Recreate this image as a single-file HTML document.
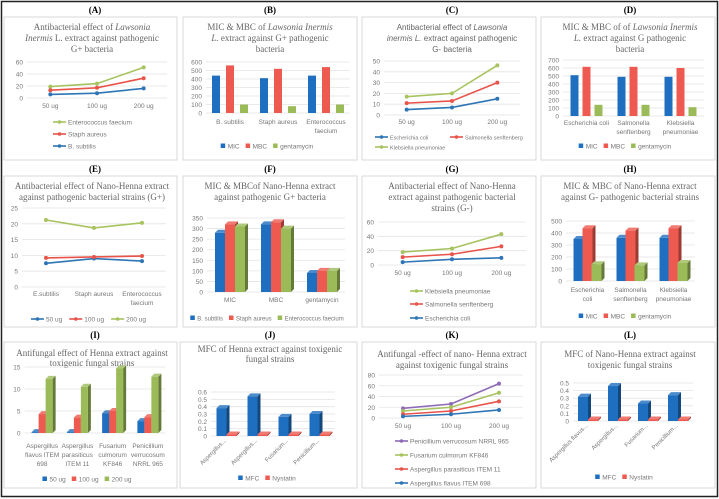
<!DOCTYPE html>
<html><head><meta charset="utf-8">
<style>
html,body{margin:0;padding:0;background:#fff;}
svg{display:block;}
.pl{font-family:"Liberation Serif",serif;font-weight:bold;font-size:9px;fill:#000;}
.tt{font-family:"Liberation Serif",serif;font-size:9px;fill:#666;}
.ts{font-family:"Liberation Sans",sans-serif;font-size:8px;fill:#666;}
</style></head>
<body>
<svg id="fig" width="719" height="499" viewBox="0 0 719 499" xmlns="http://www.w3.org/2000/svg">
<rect x="1.5" y="1.5" width="716" height="495" fill="#fff" stroke="#222" stroke-width="1.5"/>
<g fill="#fff" stroke="#d9d9d9" stroke-width="1">
<rect x="4" y="17" width="173" height="143"/>
<rect x="183" y="17" width="174" height="143"/>
<rect x="362" y="17" width="174" height="143"/>
<rect x="541" y="17" width="174" height="143"/>
<rect x="4" y="176" width="173" height="151"/>
<rect x="183" y="176" width="174" height="151"/>
<rect x="362" y="176" width="174" height="151"/>
<rect x="541" y="176" width="174" height="151"/>
<rect x="4" y="342" width="173" height="146"/>
<rect x="180" y="342" width="177" height="146"/>
<rect x="362" y="342" width="174" height="146"/>
<rect x="541" y="342" width="174" height="146"/>
</g>
<g text-anchor="middle">
<text class="pl" x="95" y="13">(A)</text>
<text class="pl" x="270" y="13">(B)</text>
<text class="pl" x="452" y="13">(C)</text>
<text class="pl" x="630" y="13">(D)</text>
<text class="pl" x="95" y="172">(E)</text>
<text class="pl" x="270" y="172">(F)</text>
<text class="pl" x="452" y="172">(G)</text>
<text class="pl" x="630" y="172">(H)</text>
<text class="pl" x="95" y="338">(I)</text>
<text class="pl" x="270" y="338">(J)</text>
<text class="pl" x="452" y="338">(K)</text>
<text class="pl" x="630" y="338">(L)</text>
</g>
<g text-anchor="middle">
<text class="tt" x="92" y="30">Antibacterial  effect of <tspan font-style="italic">Lawsonia</tspan></text>
<text class="tt" x="92" y="41"><tspan font-style="italic">Inermis</tspan> L. extract against  pathogenic</text>
<text class="tt" x="92" y="52">G+  bacteria</text>
<text class="tt" x="270" y="30">MIC &amp; MBC of <tspan font-style="italic">Lawsonia  Inermis</tspan></text>
<text class="tt" x="270" y="41"><tspan font-style="italic">L.</tspan> extract against  G+ pathogenic</text>
<text class="tt" x="270" y="52">bacteria</text>
<text class="ts" x="452" y="30">Antibacterial effect of <tspan font-style="italic">Lawsonia</tspan></text>
<text class="ts" x="452" y="41"><tspan font-style="italic">inermis L.</tspan> extract against pathogenic</text>
<text class="ts" x="452" y="52">G-  bacteria</text>
<text class="tt" x="630" y="30">MIC &amp; MBC of of <tspan font-style="italic">Lawsonia  Inermis</tspan></text>
<text class="tt" x="630" y="41"><tspan font-style="italic">L.</tspan> extract against  G   pathogenic</text>
<text class="tt" x="630" y="52">bacteria</text>
<text class="tt" x="92" y="189">Antibacterial effect of Nano-Henna extract</text>
<text class="tt" x="92" y="200">against pathogenic  bacterial strains (G+)</text>
<text class="tt" x="270" y="189">MIC &amp; MBCof Nano-Henna extract</text>
<text class="tt" x="270" y="200">against pathogenic G+ bacteria</text>
<text class="tt" x="452" y="189">Antibacterial  effect of Nano-Henna</text>
<text class="tt" x="452" y="200">extract against pathogenic bacterial</text>
<text class="tt" x="452" y="211">strains (G-)</text>
<text class="tt" x="630" y="189">MIC &amp; MBC of Nano-Henna extract</text>
<text class="tt" x="630" y="200">against G- pathogenic bacterial strains</text>
<text class="tt" x="92" y="356">Antifungal  effect of Henna extract against</text>
<text class="tt" x="92" y="366">toxigenic  fungal strains</text>
<text class="tt" x="270" y="352">MFC of Henna extract against toxigenic</text>
<text class="tt" x="270" y="362">fungal strains</text>
<text class="tt" x="452" y="357">Antifungal -effect of nano- Henna extract</text>
<text class="tt" x="452" y="368">against toxigenic  fungal  strains</text>
<text class="tt" x="630" y="357">MFC of Nano-Henna extract against</text>
<text class="tt" x="630" y="368">toxigenic  fungal strains</text>
</g>
</svg>
<script>
// ---- data ----
const doseCats = ['50 ug','100 ug','200 ug'];
const aEntero = [19, 24, 51];
const aStaph = [13, 17, 33];
const aBsub = [6, 8, 16];
const bCats = ['B. subtilis','Staph  aureus','Enterococcus|faecium'];
const bMIC = [440, 410, 440];
const bMBC = [560, 520, 540];
const bGent = [100, 80, 100];
const cEcoli = [5, 7, 15];
const cSalm = [11, 13, 30];
const cKleb = [17, 20, 46];
const dCats = ['Escherichia  coli','Salmonella|senftenberg','Klebsiella|pneumoniae'];
const dMIC = [510, 490, 490];
const dMBC = [615, 615, 600];
const dGent = [140, 140, 110];
const eCats = ['E.subtilis','Staph aureus','Enterococcus|faecium'];
const e50 = [7.5, 9, 8.2];
const e100 = [9.2, 9.5, 9.8];
const e200 = [21.2, 18.7, 20.3];
const fCats = ['MIC','MBC','gentamycin'];
const fBsub = [280, 320, 90];
const fStaph = [320, 330, 100];
const fEntero = [310, 300, 100];
const gKleb = [18, 23, 43];
const gSalm = [11, 15, 26];
const gEcoli = [4, 8, 10];
const hCats = ['Escherichia|coli','Salmonella|senftenberg','Klebsiella|pneumoniae'];
const hMIC = [350, 360, 360];
const hMBC = [440, 420, 440];
const hGent = [140, 130, 150];
const iCats = ['Aspergillus|flavus ITEM|698','Aspergillus|parasiticus|ITEM 11','Fusarium|culmorum|KF846','Penicillium|verrucosum|NRRL 965'];
const i50 = [0.2, 0.2, 4.5, 2.7];
const i100 = [4.3, 3.5, 5.0, 3.6];
const i200 = [12.3, 10.5, 14.7, 12.8];
const jCats = ['Aspergillus...','Aspergillus...','Fusarium...','Penicillium...'];
const jMFC = [0.38, 0.54, 0.26, 0.30];
const jNys = [0.02, 0.02, 0.02, 0.02];
const kPen = [18, 26, 64];
const kFus = [13, 20, 47];
const kAsp2 = [7, 13, 31];
const kAsp1 = [3, 7, 15];
const lCats = ['Aspergillus flavus...','Aspergillus...','Fusarium...','Penicillium...'];
const lMFC = [0.32, 0.46, 0.23, 0.34];
const lNys = [0.02, 0.02, 0.02, 0.02];

const BLUE='#1f6fc0', RED='#ee5a50', GREEN='#9bbb59', PURPLE='#8e6bb5';
const LBLUE='#2e75b6', LRED='#e8534a', LGREEN='#a7c35f';
const NS='http://www.w3.org/2000/svg';
const svg=document.getElementById('fig');
function mk(tag, attrs, parent){
  const e=document.createElementNS(NS,tag);
  for(const k in attrs) e.setAttribute(k, attrs[k]);
  parent.appendChild(e);
  return e;
}
function shade(hex,f){
  let r=parseInt(hex.substr(1,2),16),g=parseInt(hex.substr(3,2),16),b=parseInt(hex.substr(5,2),16);
  const c=v=>Math.max(0,Math.min(255,Math.round(f<0?v*(1+f):v+(255-v)*f)));
  return 'rgb('+c(r)+','+c(g)+','+c(b)+')';
}
function axes(g, o){
  const ys=v=>o.yBot-(v/o.max)*(o.yBot-o.yTop);
  for(let i=0;i*o.step<=o.max+1e-9;i++){
    const v=i*o.step, y=ys(v);
    const gl=mk('line',{x1:o.x0,x2:o.x1,y1:y,y2:y,stroke:'#e3e3e3','stroke-width':0.8},g);
    
    
    const t=mk('text',{x:o.x0-4,y:y+2.5,'text-anchor':'end','font-family':'Liberation Sans, sans-serif','font-size':6.5,fill:'#777'},g);
    t.textContent=String(Number(v.toFixed(2)));
    
    
  }
  const n=o.cats.length, band=(o.x1-o.x0)/n;
  o.cats.forEach((c,i)=>{
    const cx=o.x0+(i+0.5)*band;
    if(o.rot){
      const t=mk('text',{x:cx,y:o.labelY,'text-anchor':'end','font-family':'Liberation Sans, sans-serif','font-size':6,fill:'#777',transform:'rotate(-45 '+cx+' '+o.labelY+')'},g);
      t.textContent=c;
      
      
    } else {
      c.split('|').forEach((ln,j)=>{
        const t=mk('text',{x:cx,y:o.labelY+j*9,'text-anchor':'middle','font-family':'Liberation Sans, sans-serif','font-size':6.5,fill:'#777'},g);
        t.textContent=ln;
        
        
      });
    }
  });
  return {ys, band};
}
function legend(g, items, kind, pos){
  let places=[];
  const fs=pos.fs||6.5;
  const mw=[];
  items.forEach(it=>{
    const t=mk('text',{'font-family':'Liberation Sans, sans-serif','font-size':fs},g);
    t.textContent=it.name;
    let w=0; try{w=t.getComputedTextLength();}catch(e){}
    if(!w) w=it.name.length*fs*0.5;
    mw.push(w);
    g.removeChild(t);
  });
  if(pos.ys){ places=items.map((it,i)=>[pos.x,pos.ys[i]]); }
  else if(pos.pts){ places=pos.pts; }
  else {
    const widths=items.map((it,i)=>(kind==='line'?16:7)+mw[i]+6);
    const tot=widths.reduce((a,b)=>a+b,0);
    let x=pos.cx-tot/2;
    widths.forEach((w,i)=>{places.push([x,pos.y]);x+=w;});
  }
  items.forEach((it,i)=>{
    const [x,y]=places[i];
    let tx;
    if(kind==='line'){
      const l=mk('line',{x1:x,x2:x+13,y1:y,y2:y,stroke:it.color,'stroke-width':1.6},g);
      
      
      const c=mk('circle',{cx:x+6.5,cy:y,r:1.8,fill:it.color},g);
      
      
      tx=x+15;
    } else {
      const r=mk('rect',{x:x,y:y-2.5,width:4.5,height:4.5,fill:it.color},g);
      
      
      tx=x+7;
    }
    const t=mk('text',{x:tx,y:y+2.3,'font-family':'Liberation Sans, sans-serif','font-size':fs,fill:'#777'},g);
    t.textContent=it.name;
    
    
  });
}
function lineChart(name, o){
  const g=mk('g',{},svg);
  
  
  const {ys,band}=axes(g,o);
  o.series.forEach(s=>{
    const pts=s.vals.map((v,i)=>(o.x0+(i+0.5)*band)+','+ys(v)).join(' ');
    const pl=mk('polyline',{points:pts,fill:'none',stroke:s.color,'stroke-width':1.6},g);
    
    
    s.vals.forEach((v,i)=>{
      const c=mk('circle',{cx:o.x0+(i+0.5)*band,cy:ys(v),r:2,fill:s.color},g);
      
      
    });
  });
  legend(g,o.series,'line',o.leg);
}
function barChart(name, o){
  const g=mk('g',{},svg);
  
  
  const {ys,band}=axes(g,o);
  const ns=o.series.length, d=o.d||0;
  o.series.forEach((s,si)=>{
    s.vals.forEach((v,i)=>{
      const cx=o.x0+(i+0.5)*band;
      const bx=cx+(si-(ns-1)/2)*o.pitch-o.bw/2;
      const y=ys(v), h=o.yBot-y;
      if(d){
        const side=mk('polygon',{points:[bx+o.bw,y, bx+o.bw+d,y-d, bx+o.bw+d,o.yBot-d, bx+o.bw,o.yBot].join(' '),fill:shade(s.color,-0.35)},g);
        
        
        const top=mk('polygon',{points:[bx,y, bx+d,y-d, bx+o.bw+d,y-d, bx+o.bw,y].join(' '),fill:shade(s.color,0.2)},g);
        
        
      }
      const r=mk('rect',{x:bx,y:y,width:o.bw,height:Math.max(h,0.5),fill:s.color},g);
      
      
    });
  });
  legend(g,o.series,'box',o.leg);
}

lineChart('chart-a',{x0:27,x1:167,yTop:62,yBot:98,max:60,step:20,cats:doseCats,labelY:108,
  series:[{name:'Enterococcus faecium',vals:aEntero,color:LGREEN},{name:'Staph  aureus',vals:aStaph,color:LRED},{name:'B. subtilis',vals:aBsub,color:LBLUE}],
  leg:{x:53,ys:[122,134,146]}});
barChart('chart-b',{x0:206,x1:350,yTop:62,yBot:113,max:600,step:100,cats:bCats,labelY:124,bw:8,pitch:14,
  series:[{name:'MIC',vals:bMIC,color:BLUE},{name:'MBC',vals:bMBC,color:RED},{name:'gentamycin',vals:bGent,color:GREEN}],
  leg:{cx:270,y:146}});
lineChart('chart-c',{x0:384,x1:520,yTop:61,yBot:115,max:50,step:10,cats:doseCats,labelY:124,
  series:[{name:'Escherichia  coli',vals:cEcoli,color:LBLUE},{name:'Salmonella senftenberg',vals:cSalm,color:LRED},{name:'Klebsiella pneumoniae',vals:cKleb,color:LGREEN}],
  leg:{pts:[[375,137],[450,137],[375,147]],fs:5.5}});
barChart('chart-d',{x0:563,x1:704,yTop:60,yBot:116,max:700,step:100,cats:dCats,labelY:125,bw:8,pitch:12,
  series:[{name:'MIC',vals:dMIC,color:BLUE},{name:'MBC',vals:dMBC,color:RED},{name:'gentamycin',vals:dGent,color:GREEN}],
  leg:{cx:628,y:146}});
lineChart('chart-e',{x0:22,x1:166,yTop:208,yBot:287,max:25,step:5,cats:eCats,labelY:296,
  series:[{name:'50 ug',vals:e50,color:LBLUE},{name:'100 ug',vals:e100,color:LRED},{name:'200 ug',vals:e200,color:LGREEN}],
  leg:{cx:92,y:319}});
barChart('chart-f',{x0:207,x1:345,yTop:218,yBot:292,max:350,step:50,cats:fCats,labelY:302,bw:10,pitch:10,d:3,
  series:[{name:'B. subtilis',vals:fBsub,color:BLUE},{name:'Staph  aureus',vals:fStaph,color:RED},{name:'Enterococcus faecium',vals:fEntero,color:GREEN}],
  leg:{cx:270,y:318,fs:6}});
lineChart('chart-g',{x0:378,x1:526,yTop:222,yBot:265,max:60,step:20,cats:doseCats,labelY:275,
  series:[{name:'Klebsiella pneumoniae',vals:gKleb,color:LGREEN},{name:'Salmonella senftenberg',vals:gSalm,color:LRED},{name:'Escherichia   coli',vals:gEcoli,color:LBLUE}],
  leg:{x:410,ys:[291,304,318]}});
barChart('chart-h',{x0:566,x1:695,yTop:221,yBot:281,max:500,step:100,cats:hCats,labelY:292,bw:10,pitch:9,d:3,
  series:[{name:'MIC',vals:hMIC,color:BLUE},{name:'MBC',vals:hMBC,color:RED},{name:'gentamycin',vals:hGent,color:GREEN}],
  leg:{cx:628,y:316}});
barChart('chart-i',{x0:24.5,x1:165.5,yTop:367,yBot:433,max:15,step:5,cats:iCats,labelY:448,bw:7,pitch:7,d:3,
  series:[{name:'50 ug',vals:i50,color:BLUE},{name:'100 ug',vals:i100,color:RED},{name:'200 ug',vals:i200,color:GREEN}],
  leg:{cx:90,y:479}});
barChart('chart-j',{x0:211,x1:335,yTop:392,yBot:436,max:0.6,step:0.1,cats:jCats,labelY:441,rot:true,bw:10,pitch:10,d:3,
  series:[{name:'MFC',vals:jMFC,color:BLUE},{name:'Nystatin',vals:jNys,color:RED}],
  leg:{cx:270,y:478}});
lineChart('chart-k',{x0:379,x1:523,yTop:375,yBot:418,max:80,step:20,cats:doseCats,labelY:428,
  series:[{name:'Penicillium verrucosum NRRL 965',vals:kPen,color:PURPLE},{name:'Fusarium culmorum KF846',vals:kFus,color:LGREEN},{name:'Aspergillus  parasiticus ITEM 11',vals:kAsp2,color:LRED},{name:'Aspergillus flavus ITEM 698',vals:kAsp1,color:LBLUE}],
  leg:{x:395,ys:[441,455,469,483]}});
barChart('chart-l',{x0:573,x1:693,yTop:383,yBot:421,max:0.5,step:0.1,cats:lCats,labelY:426,rot:true,bw:10,pitch:10,d:3,
  series:[{name:'MFC',vals:lMFC,color:BLUE},{name:'Nystatin',vals:lNys,color:RED}],
  leg:{cx:627,y:477}});
</script>
</body></html>
